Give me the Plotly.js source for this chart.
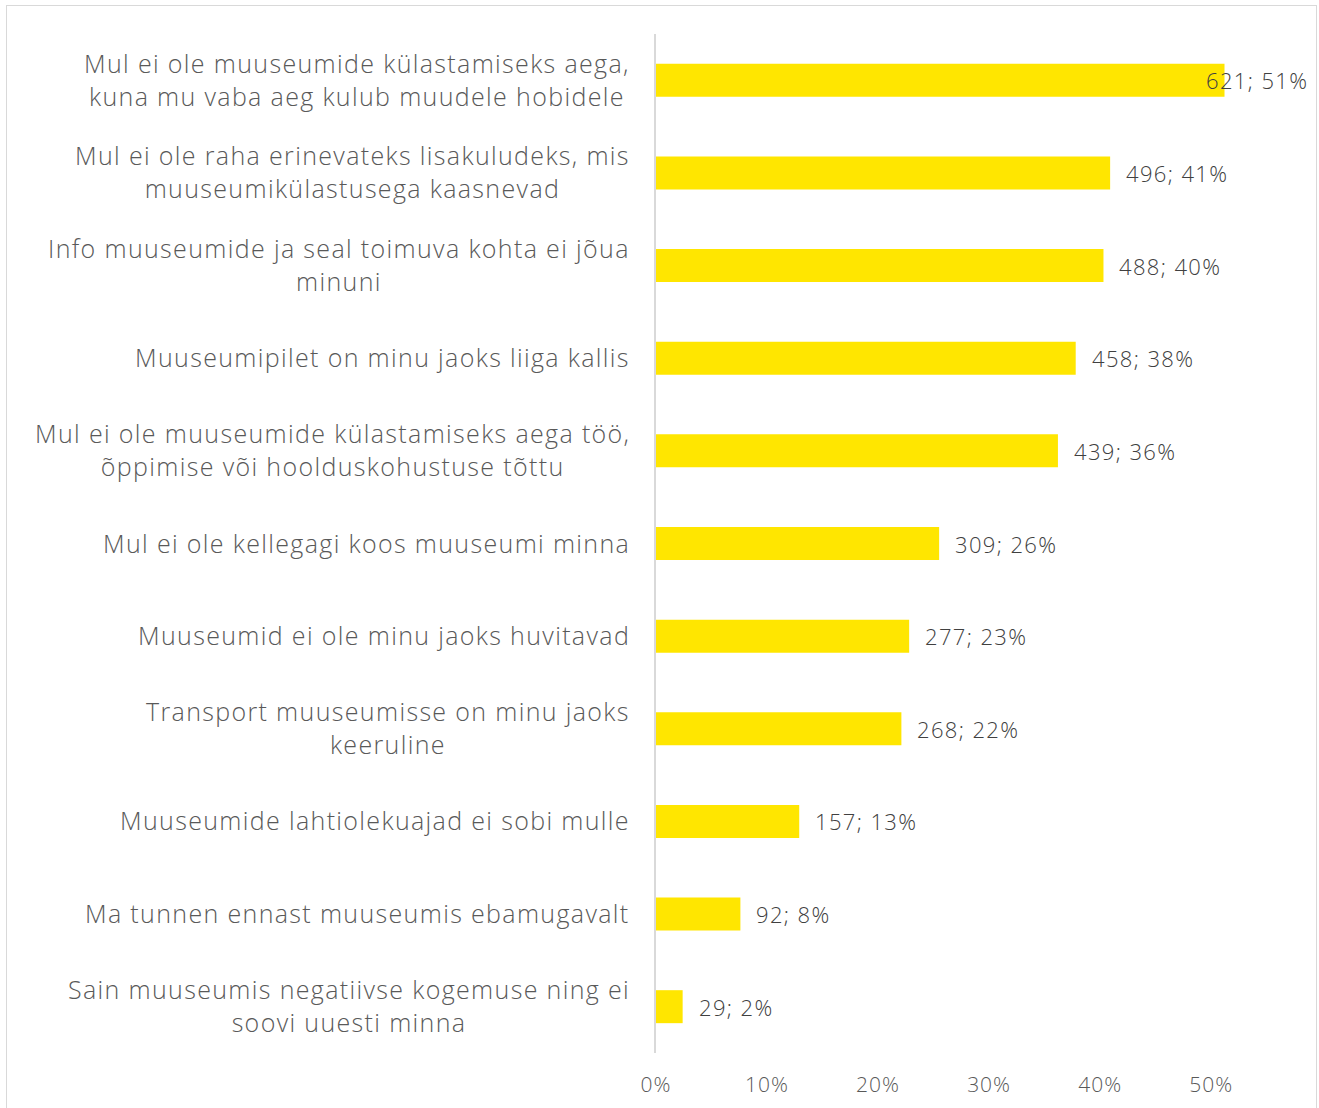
<!DOCTYPE html>
<html>
<head>
<meta charset="utf-8">
<script src="https://cdn.plot.ly/plotly-3.0.1.min.js"></script>
<style>
  html, body { margin: 0; padding: 0; background: #fff; }
  #wrap { position: relative; width: 1319px; height: 1108px; overflow: hidden; }
  #chart { width: 1319px; height: 1108px; }
  #frame { position: absolute; left: 6px; top: 5px; width: 1309px; height: 1120px;
           border: 1px solid #d9d9d9; pointer-events: none; }
  .annotation-text { letter-spacing: 1.35px; }
  .xtick text { letter-spacing: 1px; }
</style>
</head>
<body>
<div id="wrap"><div id="chart"></div><div id="frame"></div></div>
<script>
// ---- data ----
const categories = [
  "Mul ei ole muuseumide külastamiseks aega,<br>kuna mu vaba aeg kulub muudele hobidele",
  "Mul ei ole raha erinevateks lisakuludeks, mis<br>muuseumikülastusega kaasnevad",
  "Info muuseumide ja seal toimuva kohta ei jõua<br>minuni",
  "Muuseumipilet on minu jaoks liiga kallis",
  "Mul ei ole muuseumide külastamiseks aega töö,<br>õppimise või hoolduskohustuse tõttu",
  "Mul ei ole kellegagi koos muuseumi minna",
  "Muuseumid ei ole minu jaoks huvitavad",
  "Transport muuseumisse on minu jaoks<br>keeruline",
  "Muuseumide lahtiolekuajad ei sobi mulle",
  "Ma tunnen ennast muuseumis ebamugavalt",
  "Sain muuseumis negatiivse kogemuse ning ei<br>soovi uuesti minna"
];
const counts = [621, 496, 488, 458, 439, 309, 277, 268, 157, 92, 29];
const shares = [0.512, 0.409, 0.403, 0.378, 0.362, 0.255, 0.228, 0.221, 0.129, 0.076, 0.024];
const shareLabels = ["51%", "41%", "40%", "38%", "36%", "26%", "23%", "22%", "13%", "8%", "2%"];
const tickValues = [0, 0.1, 0.2, 0.3, 0.4, 0.5];
const tickLabels = ["0%", "10%", "20%", "30%", "40%", "50%"];

// ---- chart ----
const FONT = "'Open Sans', Roboto, sans-serif";
const xMax = 0.58;
const ids = categories.map((_, i) => i);

const trace = {
  type: "bar",
  orientation: "h",
  x: shares,
  y: ids,
  marker: { color: "#FFE600" },
  hoverinfo: "skip"
};

const annotations = [];
// category labels (centered lines, block right aligned)
categories.forEach((c, i) => {
  annotations.push({
    xref: "paper", yref: "y", x: 0, y: i,
    xanchor: "right", yanchor: "middle", align: "center",
    xshift: -24, yshift: 1, showarrow: false, text: c,
    font: { family: FONT, size: 25, color: "#595959", weight: 300 }
  });
});
// data labels
const plotWidthPx = 1319 - 656 - 19;
const labelWidthPx = 105;
counts.forEach((n, i) => {
  const txt = n + "; " + shareLabels[i];
  const endPx = shares[i] / xMax * plotWidthPx + 16 + labelWidthPx;
  if (endPx > plotWidthPx + 10) {
    annotations.push({
      xref: "paper", yref: "y", x: 1.016, y: i, xanchor: "right", yanchor: "middle",
      showarrow: false, text: txt, font: { family: FONT, size: 22, color: "#404040", weight: 300 }
    });
  } else {
    annotations.push({
      xref: "x", yref: "y", x: shares[i], y: i, xanchor: "left", yanchor: "middle",
      xshift: 14, showarrow: false, text: txt, font: { family: FONT, size: 22, color: "#404040", weight: 300 }
    });
  }
});

const layout = {
  width: 1319, height: 1108,
  margin: { l: 656, r: 19, t: 34, b: 55, pad: 0 },
  paper_bgcolor: "#ffffff", plot_bgcolor: "#ffffff",
  showlegend: false,
  bargap: 0.644,
  xaxis: {
    range: [0, xMax], tickvals: tickValues, ticktext: tickLabels,
    showgrid: false, zeroline: false, showline: false, ticks: "",
    ticklabelstandoff: 17,
    tickfont: { family: FONT, size: 21, color: "#595959", weight: 300 }
  },
  yaxis: {
    range: [categories.length - 0.5, -0.5],
    showticklabels: false, showgrid: false, zeroline: false,
    showline: true, linecolor: "#d9d9d9", linewidth: 2, ticks: ""
  },
  annotations: annotations
};

Plotly.newPlot("chart", [trace], layout, { displayModeBar: false, staticPlot: true });
</script>
</body>
</html>
